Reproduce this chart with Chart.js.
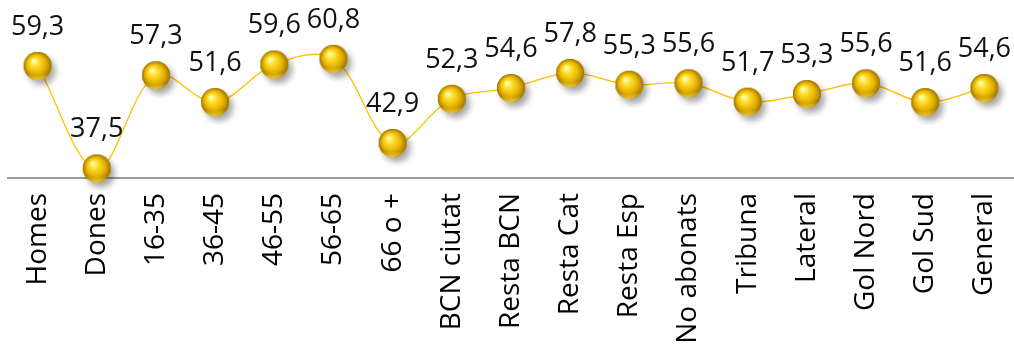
<!DOCTYPE html>
<html>
<head>
<meta charset="utf-8">
<script src="https://cdn.jsdelivr.net/npm/chart.js@4"></script>
<style>
  html, body { margin: 0; padding: 0; background: #fff; }
  #wrap { width: 1014px; height: 344px; position: relative; }
</style>
</head>
<body>
<div id="wrap"><canvas id="chart"></canvas></div>
<script>
  'use strict';

  var CATEGORIES = ['Homes', 'Dones', '16-35', '36-45', '46-55', '56-65', '66 o +',
    'BCN ciutat', 'Resta BCN', 'Resta Cat', 'Resta Esp', 'No abonats',
    'Tribuna', 'Lateral', 'Gol Nord', 'Gol Sud', 'General'];
  var VALUES = [59.3, 37.5, 57.3, 51.6, 59.6, 60.8, 42.9,
    52.3, 54.6, 57.8, 55.3, 55.6,
    51.7, 53.3, 55.6, 51.6, 54.6];

  var FONT = "'Open Sans', 'DejaVu Sans', sans-serif";

  // golden sphere used as point marker
  function makeSphere() {
    var size = 46, r = 14;
    var c = document.createElement('canvas');
    c.width = size;
    c.height = size;
    var ctx = c.getContext('2d');
    var cx = size / 2, cy = size / 2;

    ctx.save();
    ctx.shadowColor = 'rgba(0,0,0,0.35)';
    ctx.shadowBlur = 6;
    ctx.shadowOffsetX = 4;
    ctx.shadowOffsetY = 5;
    ctx.beginPath();
    ctx.arc(cx, cy, r, 0, Math.PI * 2);
    ctx.fillStyle = '#C99A00';
    ctx.fill();
    ctx.restore();

    var g = ctx.createRadialGradient(cx - 4, cy - 5, 1, cx, cy, r);
    g.addColorStop(0, '#FFFBB0');
    g.addColorStop(0.25, '#FFE033');
    g.addColorStop(0.65, '#E8B400');
    g.addColorStop(1, '#9C7400');
    ctx.beginPath();
    ctx.arc(cx, cy, r, 0, Math.PI * 2);
    ctx.fillStyle = g;
    ctx.fill();

    // light rim at the bottom
    var g2 = ctx.createLinearGradient(0, cy + r - 6, 0, cy + r);
    g2.addColorStop(0, 'rgba(255,210,40,0)');
    g2.addColorStop(1, 'rgba(255,215,60,0.9)');
    ctx.beginPath();
    ctx.arc(cx, cy, r, 0.15 * Math.PI, 0.85 * Math.PI);
    ctx.closePath();
    ctx.fillStyle = g2;
    ctx.fill();
    return c;
  }

  var valueLabels = {
    id: 'valueLabels',
    afterDatasetsDraw: function(chart) {
      var ctx = chart.ctx;
      var meta = chart.getDatasetMeta(0);
      ctx.save();
      ctx.font = '27px ' + FONT;
      ctx.fillStyle = '#111';
      ctx.textAlign = 'center';
      ctx.textBaseline = 'alphabetic';
      meta.data.forEach(function(pt, i) {
        var txt = VALUES[i].toFixed(1).replace('.', ',');
        ctx.fillText(txt, pt.x, pt.y - 31);
      });
      ctx.restore();
    }
  };

  var sphere = makeSphere();

  new Chart(document.getElementById('chart'), {
    type: 'line',
    data: {
      labels: CATEGORIES,
      datasets: [{
        data: VALUES,
        borderColor: '#FFC000',
        borderWidth: 1.3,
        tension: 0.35,
        pointStyle: sphere,
        pointRadius: 14,
        pointHoverRadius: 14,
        clip: false,
        fill: false
      }]
    },
    options: {
      responsive: true,
      maintainAspectRatio: false,
      animation: false,
      layout: { autoPadding: false, padding: { left: 8, right: 0, top: 0, bottom: 0 } },
      plugins: {
        legend: { display: false },
        tooltip: { enabled: false }
      },
      scales: {
        x: {
          offset: true,
          grid: { display: false, drawTicks: false },
          border: { display: true, color: '#9A9A9A', width: 2 },
          ticks: {
            color: '#000',
            font: { family: FONT, size: 28 },
            minRotation: 90,
            maxRotation: 90,
            autoSkip: false,
            padding: 15
          },
          afterFit: function(scale) {
            scale.height = 166;
            scale.paddingLeft = 0;
            scale.paddingRight = 0;
          }
        },
        y: {
          display: false,
          min: 35.45,
          max: 73.3
        }
      }
    },
    plugins: [valueLabels]
  });
</script>
</body>
</html>
